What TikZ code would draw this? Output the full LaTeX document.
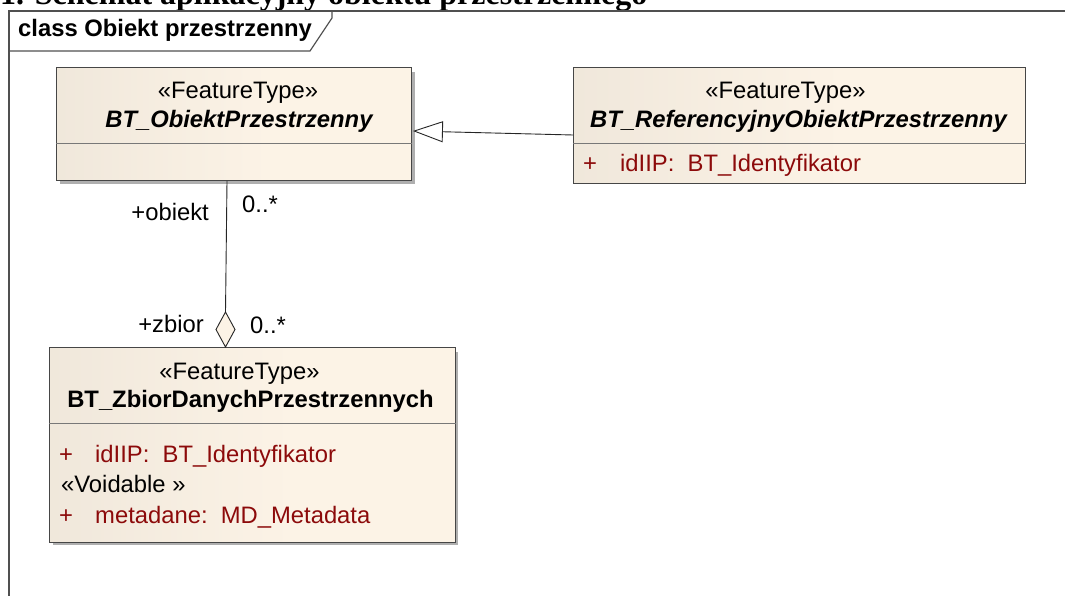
\documentclass[tikz,border=0pt]{standalone}
\usepackage{fontspec}
\setmainfont{Liberation Sans}
\newfontfamily\headfont{Liberation Serif}
\usetikzlibrary{arrows.meta,calc}
\definecolor{cream}{RGB}{252,243,230}
\definecolor{creamdark}{RGB}{230,222,210}
\definecolor{attrred}{RGB}{140,10,10}
\definecolor{boxline}{RGB}{70,70,70}
\definecolor{divline}{RGB}{120,120,120}
\definecolor{framecol}{RGB}{80,80,80}
\definecolor{shadowcol}{RGB}{175,175,175}
\pgfdeclarehorizontalshading{boxshade}{100bp}{color(0bp)=(creamdark); color(55bp)=(cream); color(100bp)=(cream)}
\begin{document}
\begin{tikzpicture}[x=1pt,y=-1pt,
  umlbox/.style={draw=boxline, line width=0.9pt, shading=boxshade, rectangle, inner sep=0pt, anchor=north west},
  divider/.style={draw=divline, line width=0.9pt},
  txt/.style={inner sep=0pt, anchor=base, font=\fontsize{23.8}{28}\selectfont},
  txtb/.style={txt, font=\fontsize{23.8}{28}\selectfont\bfseries},
  txtbi/.style={txt, font=\fontsize{23.8}{28}\selectfont\bfseries\itshape},
  attr/.style={txt, anchor=base west, text=attrred},
  conn/.style={draw=black!85, line width=0.9pt},
  frameline/.style={draw=framecol, line width=1.4pt}
]
\useasboundingbox (0,0) rectangle (1065,596);
\fill[white] (0,0) rectangle (1065,596);

% heading (cut off at the top, as in the reference)
\node[inner sep=0pt, anchor=base west, font=\headfont\bfseries\fontsize{32}{36}\selectfont] (head) at (0,5) {1. Schemat aplikacyjny obiektu przestrzennego};

% frame
\draw[frameline] (1075,11) -- (9,11) -- (9,610);
\draw[framecol, line width=1.2pt] (9,51) -- (310,51) -- (332,18) -- (332,11);
\node[txtb, anchor=base west] (title) at (18,37) {class Obiekt przestrzenny};

% shadows
\fill[shadowcol] (60,72) rectangle (415,184);
\fill[shadowcol] (53,352) rectangle (458,545);

% box 1
\node[umlbox, minimum width=355pt, minimum height=113pt] (b1) at (56,67) {};
\draw[divider] ([yshift=-76pt]b1.north west) -- ([yshift=-76pt]b1.north east);
\node[txt] (b1s) at ($(b1.north)+(4,32)$) {«FeatureType»};
\node[txtbi] (b1n) at ($(b1.north)+(5,61)$) {BT\_ObiektPrzestrzenny};

% box 2
\node[umlbox, minimum width=452pt, minimum height=116pt] (b2) at (573,67) {};
\draw[divider] ([yshift=-76pt]b2.north west) -- ([yshift=-76pt]b2.north east);
\node[txt] (b2s) at ($(b2.north)+(-14,32)$) {«FeatureType»};
\node[txtbi] (b2n) at ($(b2.north)+(-1,61)$) {BT\_ReferencyjnyObiektPrzestrzenny};
\node[attr] (b2p) at ($(b2.north west)+(10,105)$) {+};
\node[attr] (b2a) at ($(b2.north west)+(47,105)$) {idIIP:\ \ BT\_Identyfikator};

% box 3
\node[umlbox, minimum width=406pt, minimum height=195pt] (b3) at (49,347) {};
\draw[divider] ([yshift=-76pt]b3.north west) -- ([yshift=-76pt]b3.north east);
\node[txt] (b3s) at ($(b3.north)+(-13,32)$) {«FeatureType»};
\node[txtb] (b3n) at ($(b3.north)+(-2,60)$) {BT\_ZbiorDanychPrzestrzennych};
\node[attr] (b3p1) at ($(b3.north west)+(10,115)$) {+};
\node[attr] (b3a1) at ($(b3.north west)+(46,115)$) {idIIP:\ \ BT\_Identyfikator};
\node[txt, anchor=base west] (b3v) at ($(b3.north west)+(12,145)$) {«Voidable »};
\node[attr] (b3p2) at ($(b3.north west)+(10,176)$) {+};
\node[attr] (b3a2) at ($(b3.north west)+(46,176)$) {metadane:\ \ MD\_Metadata};

% generalization
\draw[conn, -{Triangle[length=30pt,width=21pt,fill=white]}]
  ([yshift=-68pt]b2.north west) -- ([xshift=1pt,yshift=-64pt]b1.north east);

% aggregation
\coordinate (atop) at ([xshift=171pt]b1.south west);
\coordinate (dtip) at ([xshift=176.5pt]b3.north west);
\draw[conn, fill=cream] (dtip) -- ++(-9.5,-17.5) -- ++(9.5,-17.5) coordinate (dtop) -- ++(9.5,17.5) -- cycle;
\draw[conn] (atop) -- (dtop);
\node[txt, anchor=base east] (robj) at (209,220) {+obiekt};
\node[txt, anchor=base west] (mobj) at (242,213) {0..*};
\node[txt, anchor=base east] (rzb) at (204,332) {+zbior};
\node[txt, anchor=base west] (mzb) at (250,333) {0..*};
\end{tikzpicture}
\end{document}
